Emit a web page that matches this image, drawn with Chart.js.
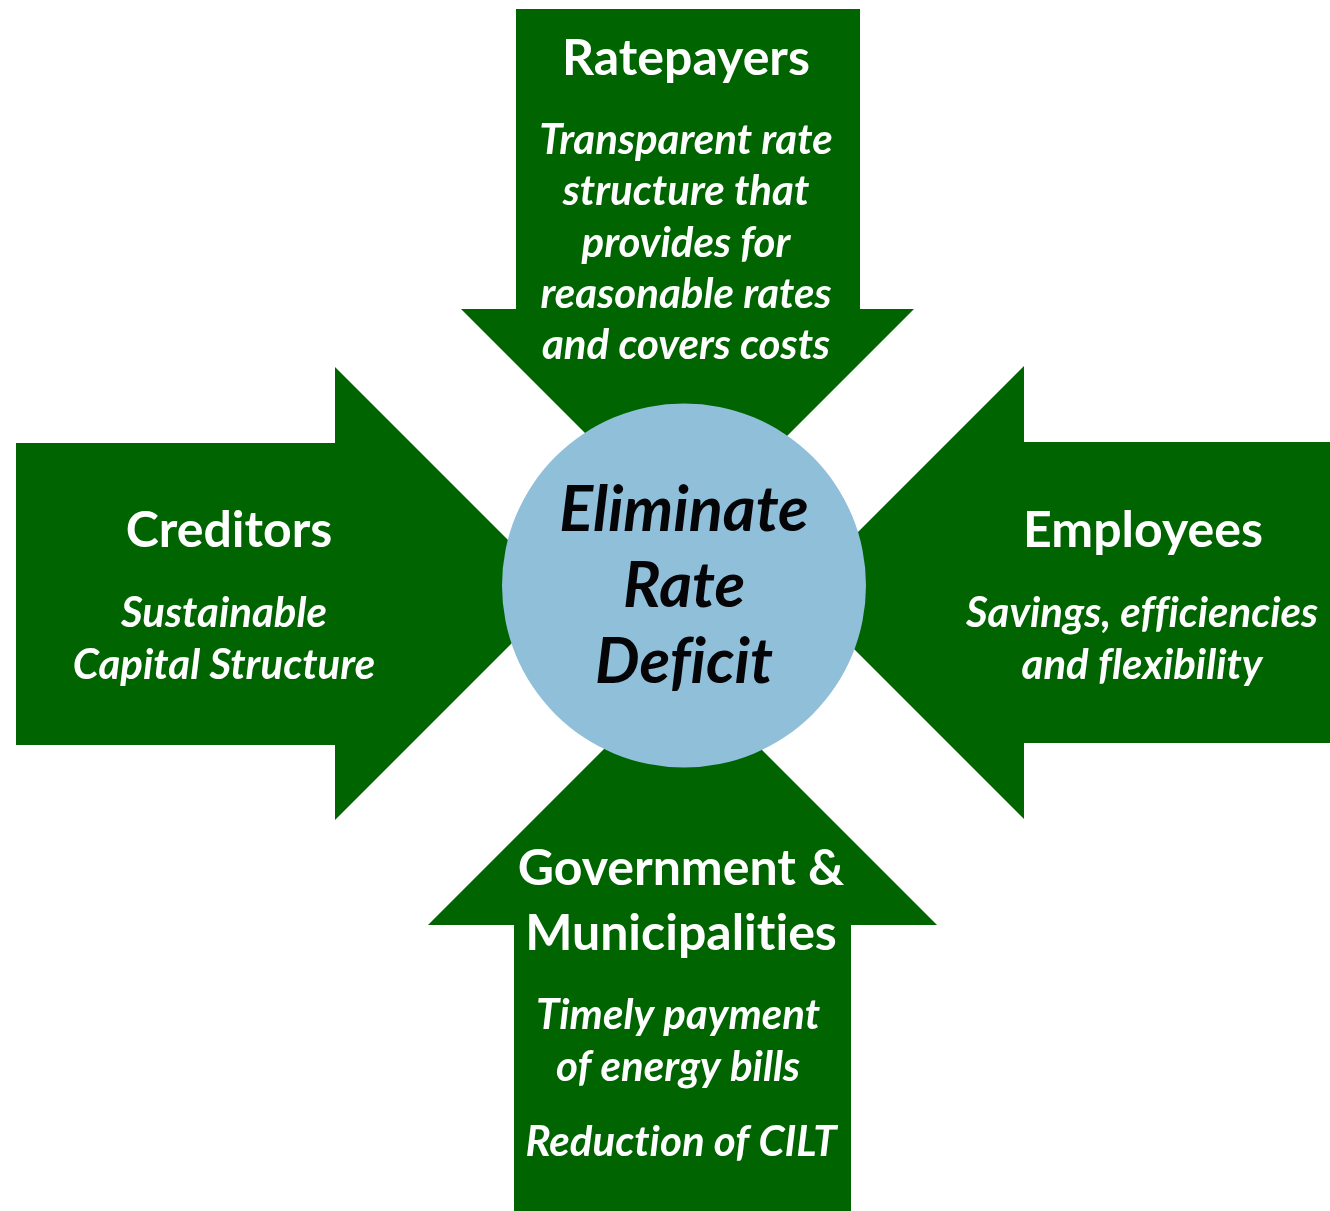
<!DOCTYPE html>
<html>
<head>
<meta charset="utf-8">
<title>Eliminate Rate Deficit</title>
<script src="https://cdn.jsdelivr.net/npm/chart.js@4.4.0/dist/chart.umd.min.js"></script>
<style>
  body { margin: 0; background: #ffffff; }
  #wrap { width: 1330px; height: 1211px; position: relative; }
</style>
</head>
<body>
<div id="wrap"><canvas id="myChart"></canvas></div>
<script>
// outlines of the four arrows, in diagram units (x right, y down)
var ratepayersArrow = [[516, 9], [860, 9], [860, 309], [914, 309], [687.5, 535.5], [461, 309], [516, 309]];
var employeesArrow = [[1330, 442], [1024, 442], [1024, 366], [797.5, 592.5], [1024, 819], [1024, 743], [1330, 743]];
var creditorsArrow = [[16, 443], [335, 443], [335, 367], [561.5, 593.5], [335, 820], [335, 745], [16, 745]];
var governmentArrow = [[514, 1211], [851, 1211], [851, 925], [937, 925], [682.5, 670.5], [428, 925], [514, 925]];

// centre circle
var goalCircle = [{x: 684, y: 585.5, r: 182}];

// texts
var ratepayersTitle = ["Ratepayers"];
var ratepayersText = ["Transparent rate", "structure that", "provides for", "reasonable rates", "and covers costs"];
var creditorsTitle = ["Creditors"];
var creditorsText = ["Sustainable", "Capital Structure"];
var employeesTitle = ["Employees"];
var employeesText = ["Savings, efficiencies", "and flexibility"];
var governmentTitle = ["Government &", "Municipalities"];
var governmentText = ["Timely payment", "of energy bills"];
var governmentText2 = ["Reduction of CILT"];
var goalText = ["Eliminate", "Rate", "Deficit"];

var green = "#006400";
var lightBlue = "#8FBFD9";

function toPoints(arr) {
    return arr.map(p => ({x: p[0], y: p[1]}));
}

var titleFont = "bold 50px Lato";
var bodyFont = "italic bold 42px Lato";
var goalFont = "italic bold 63px Lato";

// where each block of text sits: centre x, first baseline, line step
var textBlocks = [
    {lines: ratepayersTitle, x: 686, y: 75, step: 0, font: titleFont, color: "#ffffff"},
    {lines: ratepayersText, x: 686, y: 154, step: 51.3, font: bodyFont, color: "#ffffff"},
    {lines: creditorsTitle, x: 229, y: 547, step: 0, font: titleFont, color: "#ffffff"},
    {lines: creditorsText, x: 224, y: 627, step: 52, font: bodyFont, color: "#ffffff"},
    {lines: employeesTitle, x: 1143, y: 547, step: 0, font: titleFont, color: "#ffffff"},
    {lines: employeesText, x: 1142, y: 627, step: 52, font: bodyFont, color: "#ffffff"},
    {lines: governmentTitle, x: 681, y: 885, step: 65, font: titleFont, color: "#ffffff"},
    {lines: governmentText, x: 678, y: 1029, step: 51.5, font: bodyFont, color: "#ffffff"},
    {lines: governmentText2, x: 681, y: 1156, step: 0, font: bodyFont, color: "#ffffff"},
    {lines: goalText, x: 684, y: 531, step: 76, font: goalFont, color: "#050508"}
];

// fill the arrow outline using the points the line controller placed
const polygonFill = {
    id: 'polygonFill',
    beforeDatasetDraw(chart, args) {
        const ds = chart.data.datasets[args.index];
        if (!ds.polygon) return;
        const ctx = chart.ctx;
        const pts = args.meta.data;
        ctx.save();
        ctx.beginPath();
        pts.forEach((p, i) => {
            if (i === 0) ctx.moveTo(p.x, p.y);
            else ctx.lineTo(p.x, p.y);
        });
        ctx.closePath();
        ctx.fillStyle = ds.backgroundColor;
        ctx.fill();
        ctx.restore();
    }
};

const textLabels = {
    id: 'textLabels',
    afterDatasetsDraw(chart) {
        const ctx = chart.ctx;
        const xs = chart.scales.x;
        const ys = chart.scales.y;
        ctx.save();
        ctx.textAlign = "center";
        ctx.textBaseline = "alphabetic";
        ctx.letterSpacing = "0.01px"; // keeps Lato from joining "ti"
        textBlocks.forEach(b => {
            ctx.font = b.font;
            ctx.fillStyle = b.color;
            b.lines.forEach((t, i) => {
                ctx.fillText(t, xs.getPixelForValue(b.x), ys.getPixelForValue(b.y + i * b.step));
            });
        });
        ctx.restore();
    }
};

function arrowDataset(arr) {
    return {
        type: 'line',
        data: toPoints(arr),
        polygon: true,
        showLine: false,
        pointRadius: 0,
        borderWidth: 0,
        backgroundColor: green,
        clip: false,
        order: 1
    };
}

new Chart("myChart", {
    type: "scatter",
    data: {
        datasets: [
            {
                type: 'bubble',
                data: goalCircle,
                backgroundColor: lightBlue,
                borderWidth: 0,
                clip: false,
                order: 0
            },
            arrowDataset(ratepayersArrow),
            arrowDataset(employeesArrow),
            arrowDataset(creditorsArrow),
            arrowDataset(governmentArrow)
        ]
    },
    options: {
        responsive: true,
        maintainAspectRatio: false,
        animation: false,
        layout: { padding: 0, autoPadding: false },
        plugins: {
            legend: { display: false },
            tooltip: { enabled: false }
        },
        scales: {
            x: { type: 'linear', min: 0, max: 1330, display: false },
            y: { type: 'linear', min: 0, max: 1211, reverse: true, display: false }
        }
    },
    plugins: [polygonFill, textLabels]
});
</script>
</body>
</html>
